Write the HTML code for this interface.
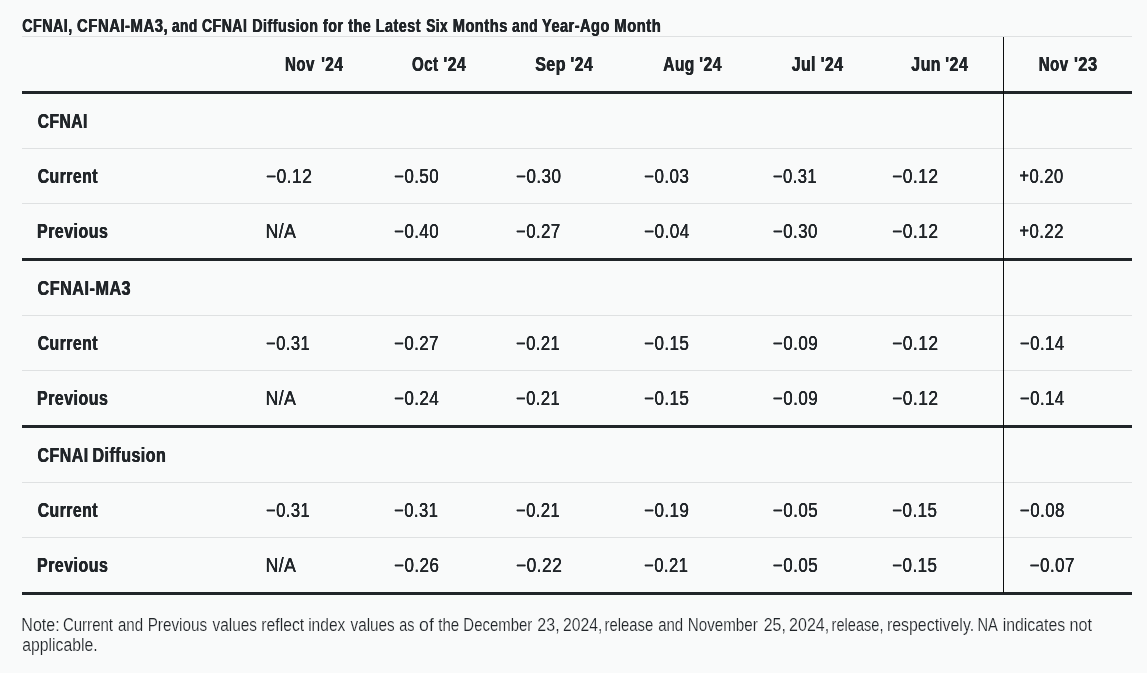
<!DOCTYPE html>
<html lang="en">
<head>
<meta charset="utf-8">
<title>CFNAI, CFNAI-MA3, and CFNAI Diffusion for the Latest Six Months and Year-Ago Month</title>
<style>
html,body{margin:0;padding:0;}
body{width:1147px;height:673px;overflow:hidden;background:#f9fafa;color:#212529;font-family:"Liberation Sans",sans-serif;position:relative;}
.w{position:absolute;left:0;top:0;display:block;white-space:nowrap;transform-origin:0 0;line-height:1;}
.title{position:absolute;left:0;top:0;width:1147px;height:36px;margin:0;font-weight:700;font-size:17.57px;}
.title .w{font-size:17.57px;line-height:17.57px;}
table{position:absolute;left:22px;top:36px;width:1110px;border-collapse:separate;border-spacing:0;table-layout:fixed;font-size:19.64px;}
th,td{position:relative;height:54px;padding:0;margin:0;border:0;border-bottom:1px solid #dfe1e2;text-align:left;font-weight:400;overflow:visible;}
th .w,td .w{font-size:19.64px;line-height:19.64px;}
thead th{border-top:1px solid #dfe1e2;border-bottom:3px solid #212529;font-weight:700;}
tbody th{font-weight:700;}
.title .w,thead th .w,tbody th .w{letter-spacing:0.6px;text-shadow:0.3px 0 0 currentColor,-0.3px 0 0 currentColor;}
tr.g td,tr.g th{border-bottom:3px solid #212529;}
td .w{letter-spacing:0.5px;text-shadow:0.08px 0 0 currentColor,-0.08px 0 0 currentColor;}
.vline{position:absolute;left:1003px;top:37px;width:1px;height:556px;background:#0c0d0e;}
.note{position:absolute;left:0;top:596px;width:1147px;height:77px;margin:0;font-size:17.57px;color:#212529;}
.note .w{font-size:17.57px;line-height:17.57px;-webkit-text-stroke:0.18px #f9fafa;}
</style>
</head>
<body>
<h2 class="title"><span class="w" style="transform:translate(22.30px,17.93px) scaleX(0.8122)">CFNAI,</span> <span class="w" style="transform:translate(77.09px,17.93px) scaleX(0.8469)">CFNAI-MA3,</span> <span class="w" style="transform:translate(172.02px,17.93px) scaleX(0.7775)">and</span> <span class="w" style="transform:translate(201.90px,17.93px) scaleX(0.8023)">CFNAI</span> <span class="w" style="transform:translate(252.25px,17.93px) scaleX(0.8131)">Diffusion</span> <span class="w" style="transform:translate(323.02px,17.93px) scaleX(0.8098)">for</span> <span class="w" style="transform:translate(348.15px,17.93px) scaleX(0.8190)">the</span> <span class="w" style="transform:translate(375.85px,17.93px) scaleX(0.8160)">Latest</span> <span class="w" style="transform:translate(426.22px,17.93px) scaleX(0.7783)">Six</span> <span class="w" style="transform:translate(452.63px,17.93px) scaleX(0.8374)">Months</span> <span class="w" style="transform:translate(512.12px,17.93px) scaleX(0.7839)">and</span> <span class="w" style="transform:translate(542.02px,17.93px) scaleX(0.8288)">Year-Ago</span> <span class="w" style="transform:translate(614.33px,17.93px) scaleX(0.8430)">Month</span></h2>
<table>
<colgroup><col style="width:230px"><col style="width:125px"><col style="width:125px"><col style="width:125px"><col style="width:131px"><col style="width:118px"><col style="width:127px"><col style="width:129px"></colgroup>
<thead>
<tr><th></th><th scope="col"><span class="w" style="transform:translate(32.99px,18.17px) scaleX(0.7698)">Nov</span> <span class="w" style="transform:translate(69.21px,18.17px) scaleX(0.7849)">'24</span></th><th scope="col"><span class="w" style="transform:translate(35.06px,18.17px) scaleX(0.7685)">Oct</span> <span class="w" style="transform:translate(66.60px,18.17px) scaleX(0.7994)">'24</span></th><th scope="col"><span class="w" style="transform:translate(33.19px,18.17px) scaleX(0.8164)">Sep</span> <span class="w" style="transform:translate(68.60px,18.17px) scaleX(0.7994)">'24</span></th><th scope="col"><span class="w" style="transform:translate(36.19px,18.17px) scaleX(0.7914)">Aug</span> <span class="w" style="transform:translate(72.30px,18.17px) scaleX(0.7994)">'24</span></th><th scope="col"><span class="w" style="transform:translate(33.64px,18.17px) scaleX(0.8065)">Jul</span> <span class="w" style="transform:translate(62.80px,18.17px) scaleX(0.7994)">'24</span></th><th scope="col"><span class="w" style="transform:translate(35.34px,18.17px) scaleX(0.8080)">Jun</span> <span class="w" style="transform:translate(69.29px,18.17px) scaleX(0.8140)">'24</span></th><th class="y" scope="col"><span class="w" style="transform:translate(35.79px,18.17px) scaleX(0.7672)">Nov</span> <span class="w" style="transform:translate(70.88px,18.17px) scaleX(0.8400)">'23</span></th></tr>
</thead>
<tbody>
<tr><th scope="row"><span class="w" style="transform:translate(15.65px,18.17px) scaleX(0.7954)">CFNAI</span></th><td></td><td></td><td></td><td></td><td></td><td></td><td class="y"></td></tr>
<tr><th scope="row"><span class="w" style="transform:translate(15.65px,18.17px) scaleX(0.8036)">Current</span></th><td><span class="w" style="transform:translate(13.95px,18.17px) scaleX(0.8895)">−0.12</span></td><td><span class="w" style="transform:translate(17.08px,18.17px) scaleX(0.8623)">−0.50</span></td><td><span class="w" style="transform:translate(13.97px,18.17px) scaleX(0.8722)">−0.30</span></td><td><span class="w" style="transform:translate(17.07px,18.17px) scaleX(0.8676)">−0.03</span></td><td><span class="w" style="transform:translate(14.89px,18.17px) scaleX(0.8477)">−0.31</span></td><td><span class="w" style="transform:translate(16.15px,18.17px) scaleX(0.8876)">−0.12</span></td><td class="y"><span class="w" style="transform:translate(16.29px,18.17px) scaleX(0.8504)">+0.20</span></td></tr>
<tr class="g"><th scope="row"><span class="w" style="transform:translate(15.05px,18.17px) scaleX(0.8129)">Previous</span></th><td><span class="w" style="transform:translate(13.60px,18.17px) scaleX(0.8965)">N/A</span></td><td><span class="w" style="transform:translate(17.08px,18.17px) scaleX(0.8623)">−0.40</span></td><td><span class="w" style="transform:translate(13.98px,18.17px) scaleX(0.8556)">−0.27</span></td><td><span class="w" style="transform:translate(17.06px,18.17px) scaleX(0.8762)">−0.04</span></td><td><span class="w" style="transform:translate(14.88px,18.17px) scaleX(0.8623)">−0.30</span></td><td><span class="w" style="transform:translate(16.15px,18.17px) scaleX(0.8876)">−0.12</span></td><td class="y"><span class="w" style="transform:translate(16.28px,18.17px) scaleX(0.8556)">+0.22</span></td></tr>
<tr><th scope="row"><span class="w" style="transform:translate(15.54px,18.17px) scaleX(0.8254)">CFNAI-MA3</span></th><td></td><td></td><td></td><td></td><td></td><td></td><td class="y"></td></tr>
<tr><th scope="row"><span class="w" style="transform:translate(15.65px,18.17px) scaleX(0.8036)">Current</span></th><td><span class="w" style="transform:translate(13.99px,18.17px) scaleX(0.8477)">−0.31</span></td><td><span class="w" style="transform:translate(17.08px,18.17px) scaleX(0.8596)">−0.27</span></td><td><span class="w" style="transform:translate(13.99px,18.17px) scaleX(0.8477)">−0.21</span></td><td><span class="w" style="transform:translate(17.07px,18.17px) scaleX(0.8676)">−0.15</span></td><td><span class="w" style="transform:translate(14.87px,18.17px) scaleX(0.8676)">−0.09</span></td><td><span class="w" style="transform:translate(16.15px,18.17px) scaleX(0.8882)">−0.12</span></td><td class="y"><span class="w" style="transform:translate(16.88px,18.17px) scaleX(0.8584)">−0.14</span></td></tr>
<tr class="g"><th scope="row"><span class="w" style="transform:translate(15.05px,18.17px) scaleX(0.8129)">Previous</span></th><td><span class="w" style="transform:translate(13.60px,18.17px) scaleX(0.8965)">N/A</span></td><td><span class="w" style="transform:translate(17.07px,18.17px) scaleX(0.8643)">−0.24</span></td><td><span class="w" style="transform:translate(13.99px,18.17px) scaleX(0.8477)">−0.21</span></td><td><span class="w" style="transform:translate(17.07px,18.17px) scaleX(0.8676)">−0.15</span></td><td><span class="w" style="transform:translate(14.87px,18.17px) scaleX(0.8676)">−0.09</span></td><td><span class="w" style="transform:translate(16.15px,18.17px) scaleX(0.8882)">−0.12</span></td><td class="y"><span class="w" style="transform:translate(16.88px,18.17px) scaleX(0.8584)">−0.14</span></td></tr>
<tr><th scope="row"><span class="w" style="transform:translate(15.55px,18.17px) scaleX(0.8101)">CFNAI</span> <span class="w" style="transform:translate(70.44px,18.17px) scaleX(0.8175)">Diffusion</span></th><td></td><td></td><td></td><td></td><td></td><td></td><td class="y"></td></tr>
<tr><th scope="row"><span class="w" style="transform:translate(15.65px,18.17px) scaleX(0.8036)">Current</span></th><td><span class="w" style="transform:translate(13.99px,18.17px) scaleX(0.8477)">−0.31</span></td><td><span class="w" style="transform:translate(17.09px,18.17px) scaleX(0.8477)">−0.31</span></td><td><span class="w" style="transform:translate(13.99px,18.17px) scaleX(0.8477)">−0.21</span></td><td><span class="w" style="transform:translate(17.07px,18.17px) scaleX(0.8676)">−0.19</span></td><td><span class="w" style="transform:translate(14.87px,18.17px) scaleX(0.8676)">−0.05</span></td><td><span class="w" style="transform:translate(16.17px,18.17px) scaleX(0.8676)">−0.15</span></td><td class="y"><span class="w" style="transform:translate(16.87px,18.17px) scaleX(0.8636)">−0.08</span></td></tr>
<tr class="g"><th scope="row"><span class="w" style="transform:translate(15.05px,18.17px) scaleX(0.8129)">Previous</span></th><td><span class="w" style="transform:translate(13.60px,18.17px) scaleX(0.8965)">N/A</span></td><td><span class="w" style="transform:translate(17.07px,18.17px) scaleX(0.8676)">−0.26</span></td><td><span class="w" style="transform:translate(13.95px,18.17px) scaleX(0.8882)">−0.22</span></td><td><span class="w" style="transform:translate(17.09px,18.17px) scaleX(0.8477)">−0.21</span></td><td><span class="w" style="transform:translate(14.87px,18.17px) scaleX(0.8676)">−0.05</span></td><td><span class="w" style="transform:translate(16.17px,18.17px) scaleX(0.8676)">−0.15</span></td><td class="y"><span class="w" style="transform:translate(26.77px,18.17px) scaleX(0.8636)">−0.07</span></td></tr>
</tbody>
</table>
<div class="vline"></div>
<p class="note"><span class="w" style="transform:translate(21.37px,20.63px) scaleX(0.9111)">Note:</span> <span class="w" style="transform:translate(62.92px,20.63px) scaleX(0.8553)">Current</span> <span class="w" style="transform:translate(117.95px,20.63px) scaleX(0.8587)">and</span> <span class="w" style="transform:translate(147.63px,20.63px) scaleX(0.8693)">Previous</span> <span class="w" style="transform:translate(212.52px,20.63px) scaleX(0.8750)">values</span> <span class="w" style="transform:translate(261.34px,20.63px) scaleX(0.8943)">reflect</span> <span class="w" style="transform:translate(308.15px,20.63px) scaleX(0.8864)">index</span> <span class="w" style="transform:translate(350.52px,20.63px) scaleX(0.8710)">values</span> <span class="w" style="transform:translate(399.27px,20.63px) scaleX(0.8218)">as</span> <span class="w" style="transform:translate(419.06px,20.63px) scaleX(1.0083)">of</span> <span class="w" style="transform:translate(438.22px,20.63px) scaleX(0.8584)">the</span> <span class="w" style="transform:translate(463.36px,20.63px) scaleX(0.8500)">December</span> <span class="w" style="transform:translate(537.37px,20.63px) scaleX(0.9092)">23,</span> <span class="w" style="transform:translate(563.08px,20.63px) scaleX(0.8955)">2024,</span> <span class="w" style="transform:translate(604.60px,20.63px) scaleX(0.8448)">release</span> <span class="w" style="transform:translate(658.15px,20.63px) scaleX(0.8551)">and</span> <span class="w" style="transform:translate(687.74px,20.63px) scaleX(0.8639)">November</span> <span class="w" style="transform:translate(763.77px,20.63px) scaleX(0.9046)">25,</span> <span class="w" style="transform:translate(789.07px,20.63px) scaleX(0.9123)">2024,</span> <span class="w" style="transform:translate(831.61px,20.63px) scaleX(0.8312)">release,</span> <span class="w" style="transform:translate(886.92px,20.63px) scaleX(0.9050)">respectively.</span> <span class="w" style="transform:translate(977.48px,20.63px) scaleX(0.8369)">NA</span> <span class="w" style="transform:translate(1002.63px,20.63px) scaleX(0.9020)">indicates</span> <span class="w" style="transform:translate(1069.51px,20.63px) scaleX(0.9178)">not</span> <span class="w" style="transform:translate(22.23px,40.53px) scaleX(0.8973)">applicable.</span></p>
</body>
</html>
